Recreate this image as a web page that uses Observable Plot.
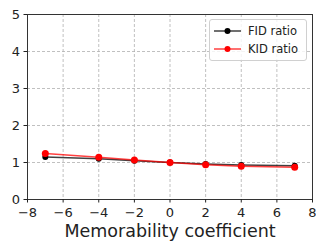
<!DOCTYPE html>
<html><head><meta charset="utf-8">
<script src="https://cdn.jsdelivr.net/npm/d3@7"></script>
<script src="https://cdn.jsdelivr.net/npm/@observablehq/plot@0.6"></script>
<style>
body{margin:0;background:#fff;font-family:"DejaVu Sans",sans-serif;}
#wrap{position:relative;width:316px;height:241px;}
#wrap svg g[aria-label="x-axis tick label"] text,
#wrap svg g[aria-label="y-axis tick label"] text{font-size:13px;}
#legend{position:absolute;left:209px;top:19px;width:96px;height:40px;border:1px solid #d0d0d0;border-radius:3px;background:rgba(255,255,255,0.8);font-size:11.5px;color:#222;}
.row{position:absolute;left:4px;height:14px;display:flex;align-items:center;}
.row svg{margin-right:7px;}
</style>
</head><body>
<div id="wrap"></div>
<script>
const coeffs = [-7, -4, -2, 0, 2, 4, 7];
const fidRatio = [1.15, 1.10, 1.05, 1.00, 0.96, 0.93, 0.91];
const kidRatio = [1.24, 1.14, 1.07, 1.00, 0.94, 0.90, 0.87];
const xTicks = [-8, -6, -4, -2, 0, 2, 4, 6, 8];
const yTicks = [0, 1, 2, 3, 4, 5];
const seriesNames = ["FID ratio", "KID ratio"];
const seriesColors = ["black", "red"];

const fid = coeffs.map((c, i) => ({x: c, y: fidRatio[i]}));
const kid = coeffs.map((c, i) => ({x: c, y: kidRatio[i]}));

const fmt = d => d < 0 ? "\u2212" + Math.abs(d) : String(d);

const chart = Plot.plot({
  width: 316, height: 241,
  marginLeft: 27, marginRight: 4, marginTop: 14, marginBottom: 42,
  style: {fontFamily: "DejaVu Sans, sans-serif", fontSize: "13px", color: "#222", background: "white"},
  x: {domain: [-8, 8], ticks: xTicks, tickFormat: fmt, label: null},
  y: {domain: [0, 5], ticks: yTicks, tickFormat: fmt, label: null},
  marks: [
    Plot.gridX(xTicks, {stroke: "#b0b0b0", strokeOpacity: 1, strokeDasharray: "3,2", strokeWidth: 0.8}),
    Plot.gridY(yTicks, {stroke: "#b0b0b0", strokeOpacity: 1, strokeDasharray: "3,2", strokeWidth: 0.8}),
    Plot.frame({stroke: "#333", strokeWidth: 1}),
    Plot.axisX({ticks: xTicks, tickFormat: fmt, tickSize: 3.5, tickPadding: 5, fontSize: 13, label: null}),
    Plot.axisY({ticks: yTicks, tickFormat: fmt, tickSize: 3.5, tickPadding: 4, fontSize: 13, label: null}),
    Plot.line(fid, {x: "x", y: "y", stroke: seriesColors[0], strokeWidth: 1.5, strokeOpacity: 0.75}),
    Plot.dot(fid, {x: "x", y: "y", fill: seriesColors[0], r: 3}),
    Plot.line(kid, {x: "x", y: "y", stroke: seriesColors[1], strokeWidth: 1.5, strokeOpacity: 0.75}),
    Plot.dot(kid, {x: "x", y: "y", fill: seriesColors[1], r: 3.5}),
    Plot.text(["Memorability coefficient"], {frameAnchor: "bottom", dy: 37, fontSize: 17.5, fill: "#222", lineAnchor: "bottom"})
  ]
});
const wrap = document.getElementById("wrap");
wrap.appendChild(chart);

const legend = document.createElement("div");
legend.id = "legend";
seriesNames.forEach((name, i) => {
  const row = document.createElement("div");
  row.className = "row";
  row.style.top = (4 + i * 18) + "px";
  row.innerHTML = `<svg width="27" height="10"><line x1="0" x2="27" y1="5" y2="5" stroke="${seriesColors[i]}" stroke-width="1.5" stroke-opacity="0.75"/><circle cx="13.5" cy="5" r="3" fill="${seriesColors[i]}"/></svg><span>${name}</span>`;
  legend.appendChild(row);
});
wrap.appendChild(legend);
</script>
</body></html>
